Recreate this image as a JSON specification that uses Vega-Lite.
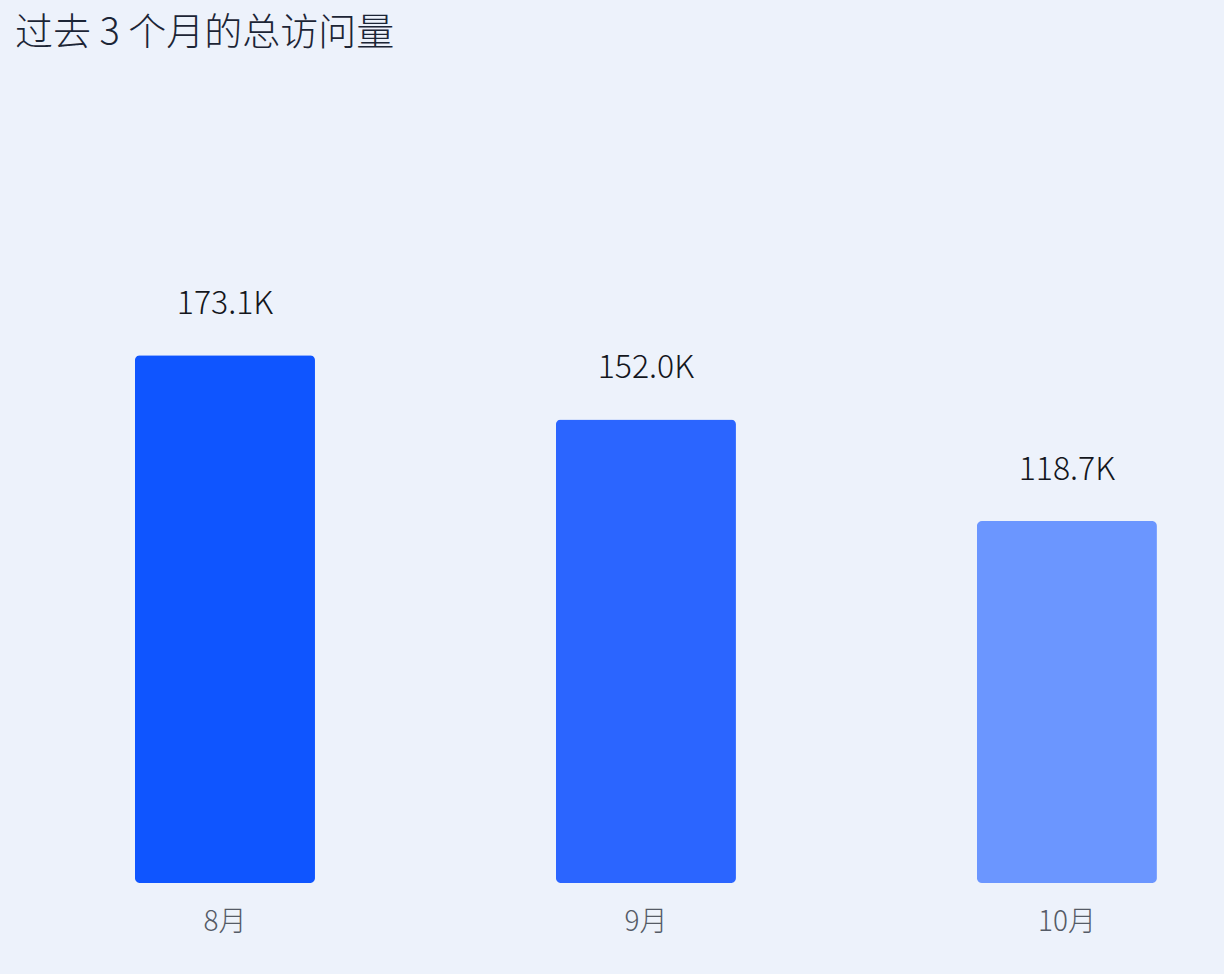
{
  "$schema": "https://vega.github.io/schema/vega-lite/v6.json",
  "description": "过去 3 个月的总访问量",
  "autosize": {"type": "none"},
  "padding": {"top": 70, "left": 0, "right": 0, "bottom": 91},
  "width": 1224,
  "height": 813,
  "background": "#EDF2FB",
  "config": {
    "view": {"stroke": null},
    "font": "Noto Sans CJK SC"
  },
  "title": {
    "text": "过去 3 个月的总访问量",
    "anchor": "start",
    "frame": "group",
    "dx": 15,
    "offset": 17,
    "fontSize": 38,
    "fontWeight": 300,
    "color": "#1C2536",
    "font": "Noto Sans CJK SC"
  },
  "data": {
    "values": [
      {"month": "8月", "visits": 173.1, "label": "173.1K", "shade": "a"},
      {"month": "9月", "visits": 152.0, "label": "152.0K", "shade": "b"},
      {"month": "10月", "visits": 118.7, "label": "118.7K", "shade": "c"}
    ]
  },
  "encoding": {
    "x": {
      "field": "month",
      "type": "nominal",
      "sort": null,
      "title": null,
      "scale": {"paddingInner": 0.5724, "paddingOuter": 0.24, "align": 0.668},
      "axis": {
        "domain": false,
        "ticks": false,
        "labelAngle": 0,
        "labelFontSize": 28,
        "labelFontWeight": 300,
        "labelColor": "#555B66",
        "labelPadding": 25,
        "labelFont": "Noto Sans CJK SC"
      }
    },
    "y": {
      "field": "visits",
      "type": "quantitative",
      "scale": {"domain": [0, 266.6], "nice": false, "zero": true},
      "axis": null
    }
  },
  "layer": [
    {
      "mark": {"type": "bar", "cornerRadius": 5},
      "encoding": {
        "color": {
          "field": "shade",
          "type": "nominal",
          "scale": {"domain": ["a", "b", "c"], "range": ["#0F55FF", "#2B65FF", "#6B96FF"]},
          "legend": null
        }
      }
    },
    {
      "mark": {
        "type": "text",
        "baseline": "bottom",
        "dy": -34,
        "fontSize": 32,
        "fontWeight": 300,
        "color": "#14161C",
        "font": "Noto Sans CJK SC"
      },
      "encoding": {"text": {"field": "label"}}
    }
  ]
}
